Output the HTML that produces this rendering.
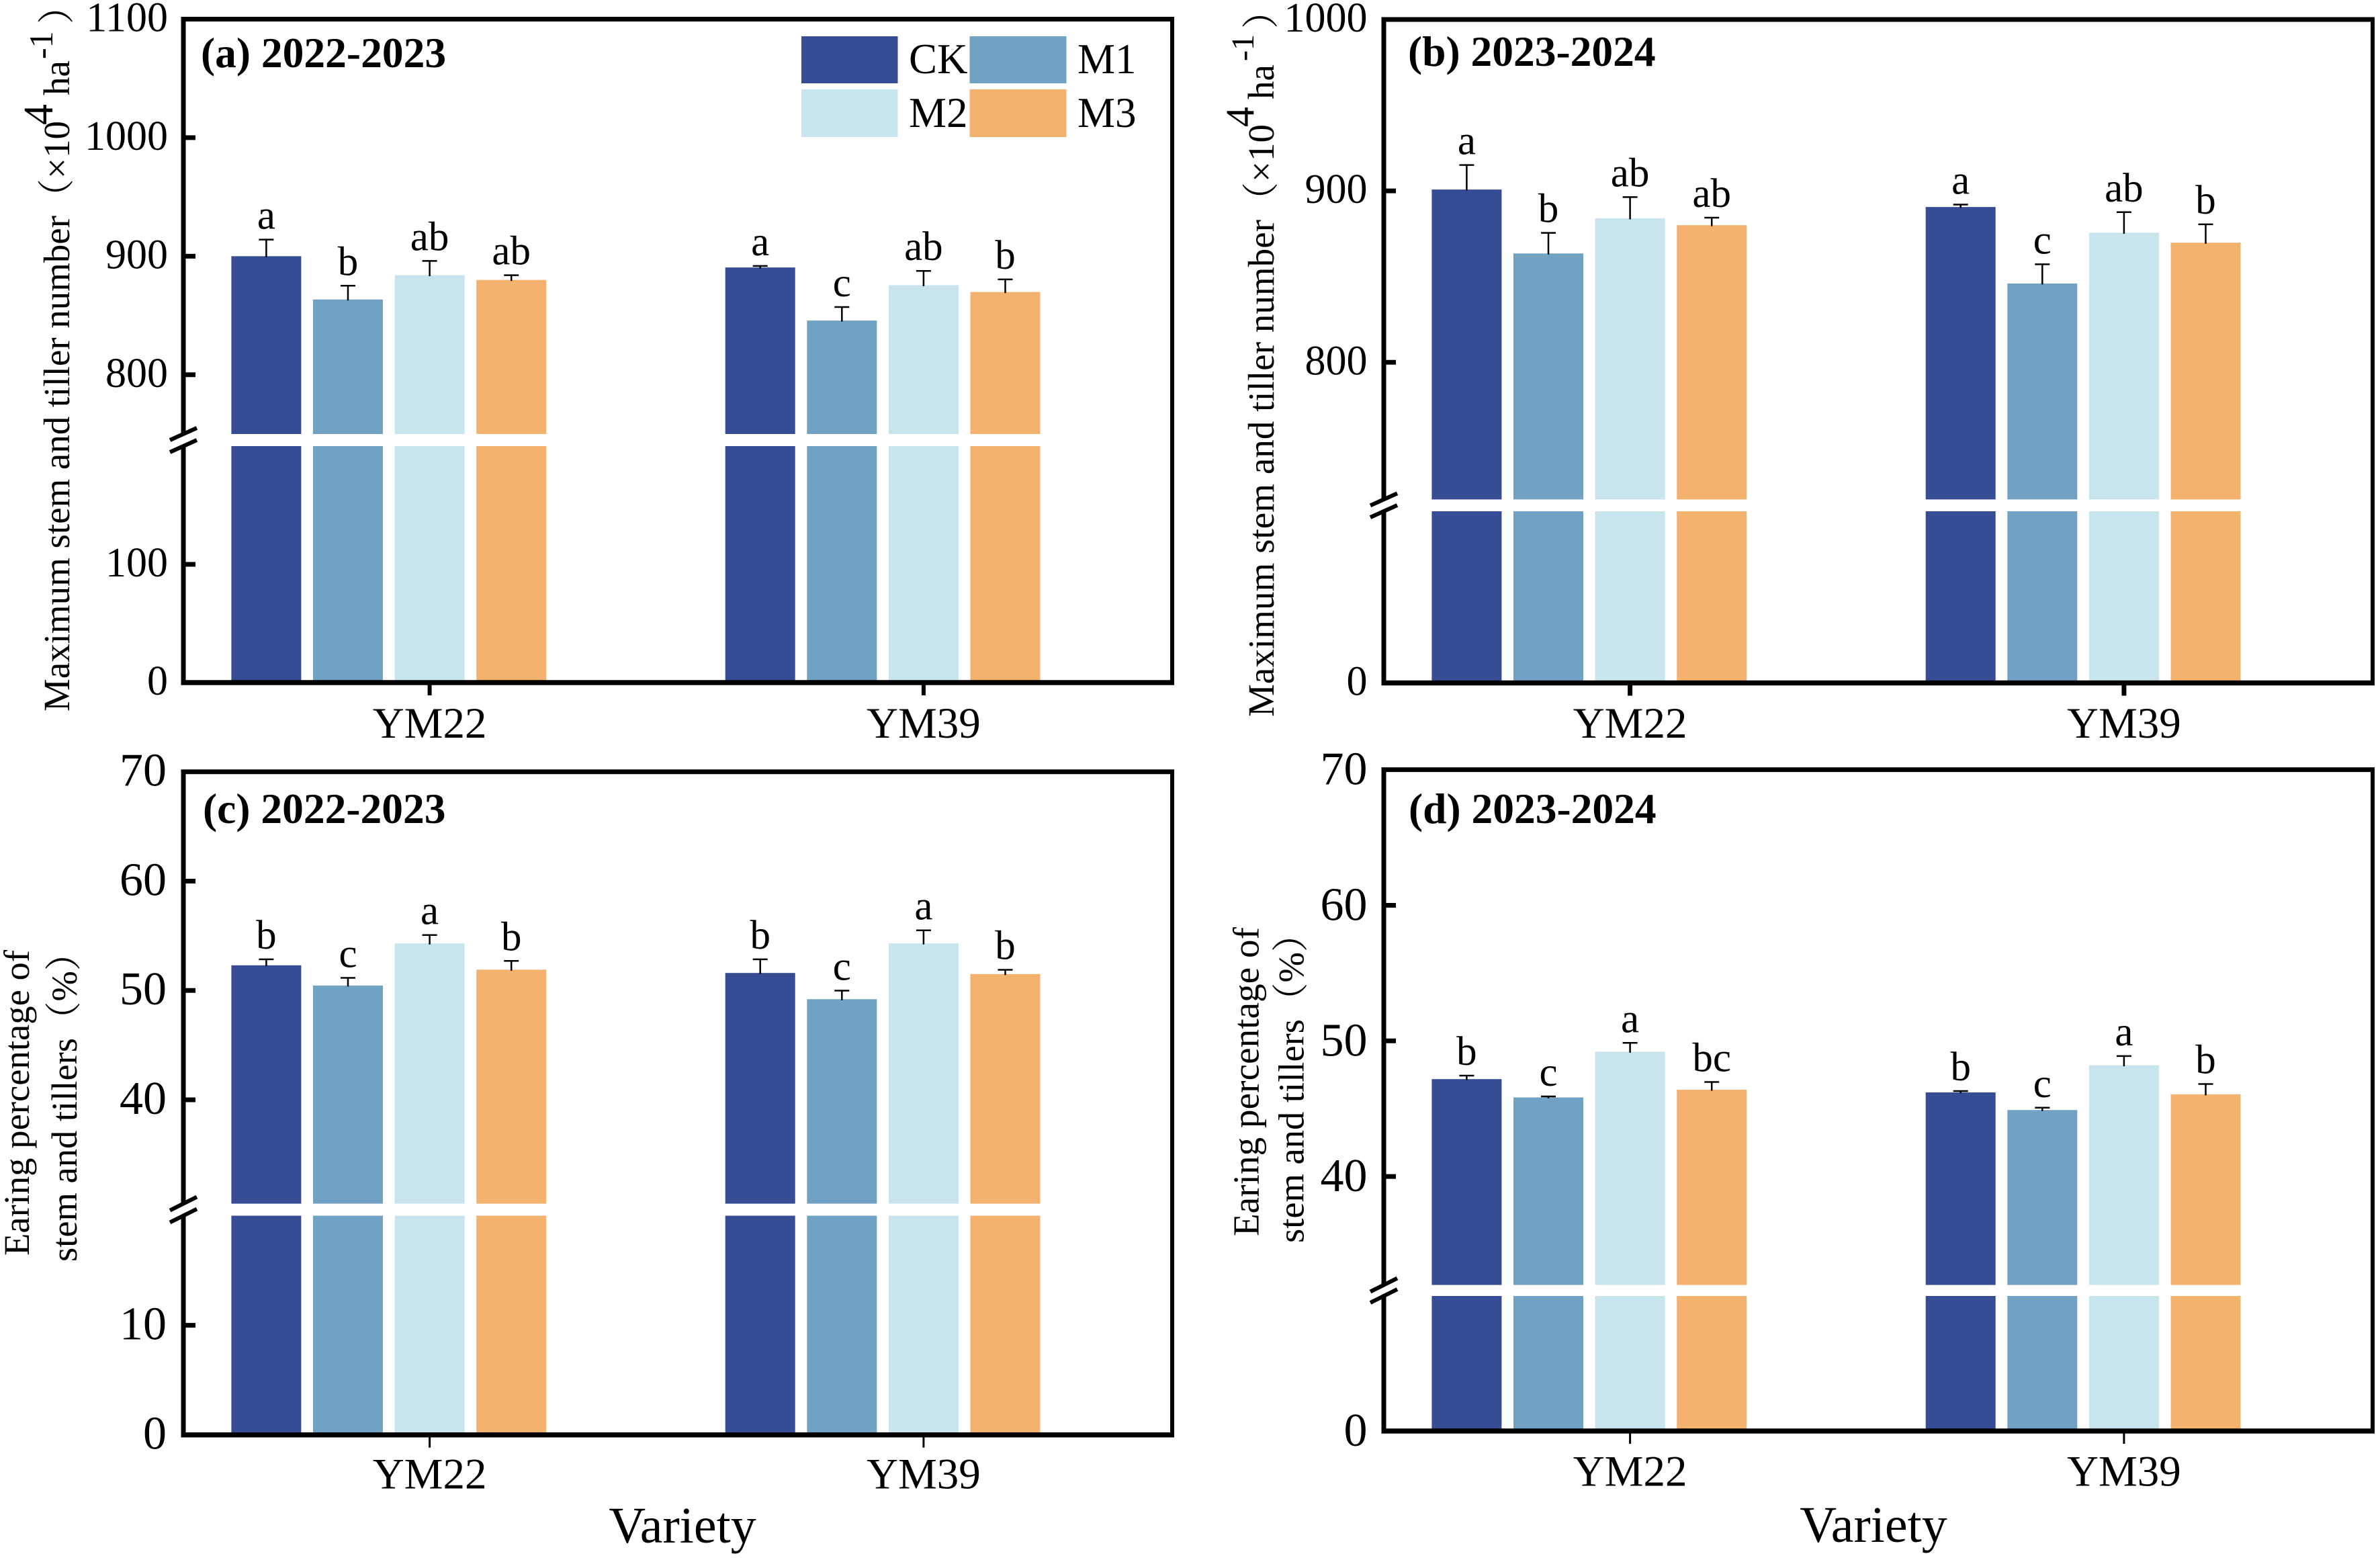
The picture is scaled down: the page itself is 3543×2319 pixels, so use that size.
<!DOCTYPE html>
<html lang="en">
<head>
<meta charset="utf-8">
<title>Maximum stem and tiller number and earing percentage by variety</title>
<style>
html,body{margin:0;padding:0;background:#fff;}
svg{display:block;}
text{font-family:"Liberation Serif","Noto Serif CJK SC",serif;fill:#000;}
</style>
</head>
<body>
<svg id="figure" xmlns="http://www.w3.org/2000/svg" width="3543" height="2319" viewBox="0 0 3543 2319">
  <rect x="0" y="0" width="3543" height="2319" fill="#fff"/>
  <g id="plots"></g>

  <g>
    <rect x="1193" y="54" width="143.5" height="70" fill="#364d96"/>
    <text x="1353" y="109" font-size="63">CK</text>
    <rect x="1443.5" y="54" width="144" height="70" fill="#71a2c4"/>
    <text x="1604" y="109" font-size="63">M1</text>
    <rect x="1193" y="133" width="143.5" height="71" fill="#c8e4ed"/>
    <text x="1353" y="189" font-size="63">M2</text>
    <rect x="1443.5" y="133" width="144" height="71" fill="#f4b26f"/>
    <text x="1604" y="189" font-size="63">M3</text>
  </g>

  <text x="299" y="100" font-size="63.5" font-weight="bold">(a) 2022-2023</text>
  <text x="2096" y="98" font-size="63.5" font-weight="bold">(b) 2023-2024</text>
  <text x="302" y="1225" font-size="63.5" font-weight="bold">(c) 2022-2023</text>
  <text x="2097" y="1225" font-size="63.5" font-weight="bold">(d) 2023-2024</text>

  <!-- panel a y title -->
  <g>
    <text transform="translate(103 1059) rotate(-90)" font-size="55" textLength="738">Maximum stem and tiller number</text>
    <text transform="translate(103 321) rotate(-90)" font-size="55">（</text>
    <text transform="translate(103 266) rotate(-90)" font-size="55">×10</text>
    <text transform="translate(78 186) rotate(-90)" font-size="62">4</text>
    <text transform="translate(103 142) rotate(-90)" font-size="55">ha</text>
    <text transform="translate(78 88) rotate(-90)" font-size="50">-1</text>
    <text transform="translate(103 36) rotate(-90)" font-size="55">）</text>
  </g>

  <!-- panel b y title -->
  <g>
    <text transform="translate(1896 1067) rotate(-90)" font-size="55" textLength="740">Maximum stem and tiller number</text>
    <text transform="translate(1896 326) rotate(-90)" font-size="55">（</text>
    <text transform="translate(1896 271) rotate(-90)" font-size="55">×10</text>
    <text transform="translate(1866 189) rotate(-90)" font-size="60">4</text>
    <text transform="translate(1896 148) rotate(-90)" font-size="55">ha</text>
    <text transform="translate(1866 91) rotate(-90)" font-size="48">-1</text>
    <text transform="translate(1896 43) rotate(-90)" font-size="55">）</text>
  </g>

  <!-- panel c y title -->
  <g>
    <text transform="translate(43 1869) rotate(-90)" font-size="54.5" textLength="455">Earing percentage of</text>
    <text transform="translate(114 1878) rotate(-90)" font-size="54.5">stem and tillers（%）</text>
  </g>

  <!-- panel d y title -->
  <g>
    <text transform="translate(1873.5 1840) rotate(-90)" font-size="55" textLength="460">Earing percentage of</text>
    <text transform="translate(1940.5 1850) rotate(-90)" font-size="54.5">stem and tillers（%）</text>
  </g>

  <text x="1016" y="2296" font-size="76" text-anchor="middle">Variety</text>
  <text x="2789" y="2295" font-size="76" text-anchor="middle">Variety</text>
</svg>

<script>
/* ---- chart data ---- */
const categories = ['YM22', 'YM39'];
const seriesNames = ['CK', 'M1', 'M2', 'M3'];
const seriesColors = ['#364d96', '#71a2c4', '#c8e4ed', '#f4b26f'];

const meansA = [[900, 863.5, 884, 880], [890.5, 845.7, 875.6, 869.8]];
const errorsA = [[14, 11.6, 12, 4], [1.3, 11.4, 12, 10.6]];
const lettersA = [['a', 'b', 'ab', 'ab'], ['a', 'c', 'ab', 'b']];
const ticksA = [1100, 1000, 900, 800, 100, 0];

const meansB = [[900.8, 863.5, 884, 880], [890.6, 846, 875.6, 869.8]];
const errorsB = [[14.3, 12, 12.4, 4.4], [1.4, 11.2, 12, 10.7]];
const lettersB = [['a', 'b', 'ab', 'ab'], ['a', 'c', 'ab', 'b']];
const ticksB = [1000, 900, 800, 0];

const meansC = [[52.3, 50.45, 54.3, 51.9], [51.6, 49.2, 54.3, 51.5]];
const errorsC = [[0.55, 0.7, 0.77, 0.8], [1.25, 0.78, 1.2, 0.39]];
const lettersC = [['b', 'c', 'a', 'b'], ['b', 'c', 'a', 'b']];
const ticksC = [70, 60, 50, 40, 10, 0];

const meansD = [[47.18, 45.83, 49.2, 46.4], [46.2, 44.9, 48.2, 46.06]];
const errorsD = [[0.26, 0.07, 0.65, 0.57], [0.1, 0.17, 0.68, 0.76]];
const lettersD = [['b', 'c', 'a', 'bc'], ['b', 'c', 'a', 'b']];
const ticksD = [70, 60, 50, 40, 0];

/* ---- layout of each panel (broken y axis: lower and upper part) ---- */
const panels = [
  {id:'a', means:meansA, errors:errorsA, letters:lettersA, ticks:ticksA,
   left:273, right:1745, labelRight:250, tickFont:62, tickBase:18, catFont:65, catBase:1098, xTickW:6,
   upper:{d0:750, d1:1100, p0:646, p1:28.5}, lower:{d0:0, d1:200, p0:1016, p1:664}},
  {id:'b', means:meansB, errors:errorsB, letters:lettersB, ticks:ticksB,
   left:2060, right:3532, labelRight:2035.5, tickFont:62, tickBase:18, catFont:65, catBase:1098, xTickW:7,
   upper:{d0:720, d1:1000, p0:743.4, p1:29}, lower:{d0:0, d1:100, p0:1016.5, p1:761}},
  {id:'c', means:meansC, errors:errorsC, letters:lettersC, ticks:ticksC,
   left:273, right:1745, labelRight:248, tickFont:70, tickBase:21, catFont:65, catBase:2215.5, xTickW:3,
   upper:{d0:30.5, d1:70, p0:1791.6, p1:1148.7}, lower:{d0:0, d1:20, p0:2135.7, p1:1809.5}},
  {id:'d', means:meansD, errors:errorsD, letters:lettersD, ticks:ticksD,
   left:2060, right:3532, labelRight:2035.5, tickFont:70, tickBase:22, catFont:65, catBase:2211.5, xTickW:3,
   upper:{d0:32, d1:70, p0:1912.6, p1:1145.6}, lower:{d0:0, d1:20, p0:2130, p1:1929}}
];

const SVGNS = 'http://www.w3.org/2000/svg';
const plots = document.getElementById('plots');

function mk(parent, tag, attrs, txt) {
  const el = document.createElementNS(SVGNS, tag);
  for (const k in attrs) { el.setAttribute(k, attrs[k]); }
  if (txt !== undefined) { el.textContent = txt; }
  parent.appendChild(el);
  return el;
}

function scalePart(part, v) {
  return part.p0 + (v - part.d0) * (part.p1 - part.p0) / (part.d1 - part.d0);
}

function yScale(p, v) {
  return v >= p.upper.d0 ? scalePart(p.upper, v) : scalePart(p.lower, v);
}

const BAR_W = 104;
const BAR_PITCH = 121.6;
const GROUP_PITCH = 735.3;
const FIRST_OFFSET = 71.4;

function xBar(p, g, s) {
  return p.left + FIRST_OFFSET + g * GROUP_PITCH + s * BAR_PITCH;
}

panels.forEach(function (p) {
  const g = mk(plots, 'g', {});
  
  

  /* bars, error bars, significance letters */
  categories.forEach(function (cat, gi) {
    seriesNames.forEach(function (name, si) {
      const x = xBar(p, gi, si);
      const v = p.means[gi][si];
      const e = p.errors[gi][si];
      const yTop = yScale(p, v);
      const yErr = yScale(p, v + e);
      const cx = x + BAR_W / 2;

      const low = mk(g, 'rect', {x: x, y: p.lower.p1, width: BAR_W, height: scalePart(p.lower, 0) - p.lower.p1, fill: seriesColors[si]});
      
      

      const up = mk(g, 'rect', {x: x, y: yTop, width: BAR_W, height: p.upper.p0 - yTop, fill: seriesColors[si]});
      
      

      const stem = mk(g, 'line', {x1: cx, x2: cx, y1: yTop + 1.5, y2: yErr, stroke: '#000', 'stroke-width': 2.5});
      
      

      const cap = mk(g, 'line', {x1: cx - 11, x2: cx + 11, y1: yErr, y2: yErr, stroke: '#000', 'stroke-width': 2.5});
      
      

      const letter = mk(g, 'text', {x: cx, y: yErr - 16, 'font-size': 61, 'text-anchor': 'middle'}, p.letters[gi][si]);
      
      
    });

    /* x tick + category label */
    const tx = xBar(p, gi, 2) + BAR_W / 2;
    const bottom = scalePart(p.lower, 0);
    const xt = mk(g, 'line', {x1: tx, x2: tx, y1: bottom, y2: bottom + 19, stroke: '#000', 'stroke-width': p.xTickW});
    
    

    const xl = mk(g, 'text', {x: tx, y: p.catBase, 'font-size': p.catFont, 'text-anchor': 'middle'}, cat);
    
    
  });

  /* frame */
  const top = scalePart(p.upper, p.upper.d1);
  const bottom = scalePart(p.lower, 0);

  const spineTop = mk(g, 'line', {x1: p.left - 3.5, x2: p.right + 3, y1: top, y2: top, stroke: '#000', 'stroke-width': 7});
  
  

  const spineRight = mk(g, 'line', {x1: p.right, x2: p.right, y1: top, y2: bottom, stroke: '#000', 'stroke-width': 6});
  
  

  const spineBottom = mk(g, 'line', {x1: p.left - 3.5, x2: p.right + 3, y1: bottom, y2: bottom, stroke: '#000', 'stroke-width': 7.5});
  
  

  const spineUp = mk(g, 'line', {x1: p.left, x2: p.left, y1: top, y2: p.upper.p0, stroke: '#000', 'stroke-width': 7});
  
  

  const spineLow = mk(g, 'line', {x1: p.left, x2: p.left, y1: p.lower.p1, y2: bottom, stroke: '#000', 'stroke-width': 7});
  
  

  /* axis break slashes */
  const slashHalf = p.id === 'a' || p.id === 'b' ? 9 : 10;
  const slash1 = mk(g, 'line', {x1: p.left - 20, x2: p.left + 20, y1: p.upper.p0 + slashHalf, y2: p.upper.p0 - slashHalf, stroke: '#000', 'stroke-width': 6});
  
  

  const slash2 = mk(g, 'line', {x1: p.left - 20, x2: p.left + 20, y1: p.lower.p1 + slashHalf, y2: p.lower.p1 - slashHalf, stroke: '#000', 'stroke-width': 6});
  
  

  /* y ticks */
  p.ticks.forEach(function (t) {
    const y = yScale(p, t);
    if (t !== p.upper.d1 && t !== 0) {
      const tick = mk(g, 'line', {x1: p.left, x2: p.left + 18, y1: y, y2: y, stroke: '#000', 'stroke-width': 7});
      
      
    }
    const lab = mk(g, 'text', {x: p.labelRight, y: y + p.tickBase, 'font-size': p.tickFont, 'text-anchor': 'end'}, String(t));
    
    
  });
});
</script>
</body>
</html>
